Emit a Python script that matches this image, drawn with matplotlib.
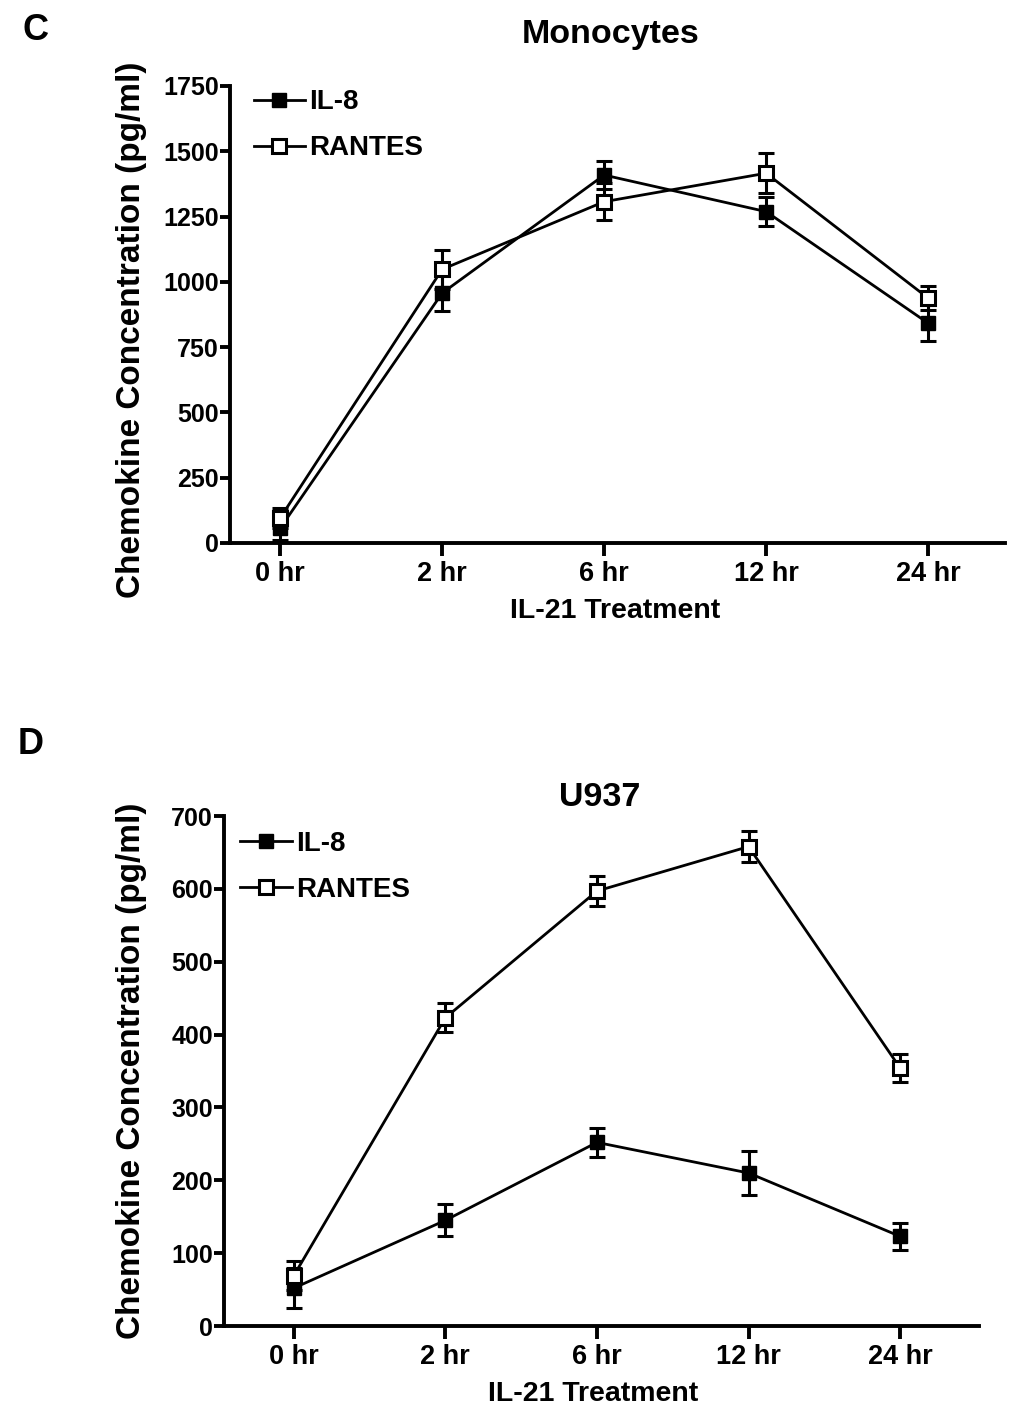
import numpy as np
import matplotlib.pyplot as plt

plt.rcParams['font.family'] = ['Liberation Sans', 'DejaVu Sans']
plt.rcParams['font.weight'] = 'bold'

# categories on the x axis
times = ['0 hr', '2 hr', '6 hr', '12 hr', '24 hr']

# panel C - Monocytes
mono_il8 = [57, 957, 1409, 1269, 842]
mono_il8_err = [45, 68, 55, 55, 68]
mono_rantes = [96, 1048, 1307, 1416, 938]
mono_rantes_err = [38, 74, 72, 76, 45]

# panel D - U937
u937_il8 = [52, 145, 252, 210, 123]
u937_il8_err = [27, 22, 20, 30, 18]
u937_rantes = [69, 423, 597, 658, 354]
u937_rantes_err = [20, 20, 21, 21, 19]

W, H = 1020, 1412
fig = plt.figure(figsize=(W / 100, H / 100), dpi=100)


def px_axes(left, top, right, bottom):
    # build axes from pixel box of the figure
    return fig.add_axes([left / W, 1 - bottom / H, (right - left) / W, (bottom - top) / H])


def draw_panel(ax, il8, il8_err, rantes, rantes_err, ymax, step, xlim, leg_anchor):
    x = np.arange(len(times))
    ax.errorbar(x, il8, yerr=il8_err, color='black', lw=2.0, marker='s', ms=9.5,
                mfc='black', mec='black', elinewidth=2.2, capsize=5.5, capthick=2.2,
                label='IL-8', zorder=3)
    ax.errorbar(x, rantes, yerr=rantes_err, color='black', lw=2.0, marker='s', ms=9.5,
                mfc='white', mec='black', mew=2.2, elinewidth=2.2, capsize=5.5, capthick=2.2,
                label='RANTES', zorder=3)
    ax.set_xlim(*xlim)
    ax.set_ylim(0, ymax)
    ax.set_yticks(np.arange(0, ymax + 1, step))
    ax.set_xticks(x)
    ax.set_xticklabels(times)
    for s in ['top', 'right']:
        ax.spines[s].set_visible(False)
    for s in ['left', 'bottom']:
        ax.spines[s].set_linewidth(2.8)
    ax.tick_params(axis='y', length=7, width=2.8, labelsize=18, pad=1)
    ax.tick_params(axis='x', length=9, width=2.8, labelsize=19.5, pad=4)
    for lab in ax.get_xticklabels() + ax.get_yticklabels():
        lab.set_fontweight('bold')
    # legend without error bars
    h, l = ax.get_legend_handles_labels()
    h = [hh[0] for hh in h]
    ax.legend(h, l, loc='upper left', bbox_to_anchor=leg_anchor, frameon=False,
              fontsize=20, handlelength=1.87, handletextpad=0.15, labelspacing=0.72,
              borderaxespad=0)


def ftext(x, y, s, **kw):
    # text placed at figure pixel coordinates
    fig.text(x / W, 1 - y / H, s, fontweight='bold', ha='center', va='center', **kw)


ax1 = px_axes(230, 86, 1005, 543)
draw_panel(ax1, mono_il8, mono_il8_err, mono_rantes, mono_rantes_err, 1750, 250,
           (-0.31, 4.475), (0.016, 1.017))

ax2 = px_axes(224, 816, 979, 1326)
draw_panel(ax2, u937_il8, u937_il8_err, u937_rantes, u937_rantes_err, 700, 100,
           (-0.46, 4.52), (0.006, 0.993))

ftext(132, 330, 'Chemokine Concentration (pg/ml)', fontsize=24, rotation=90)
ftext(132, 1071, 'Chemokine Concentration (pg/ml)', fontsize=24, rotation=90)
ftext(615, 611, 'IL-21 Treatment', fontsize=20.5)
ftext(593, 1394, 'IL-21 Treatment', fontsize=20.5)
ftext(611, 34, 'Monocytes', fontsize=24.5)
ftext(600, 797, 'U937', fontsize=24.5)
ftext(36, 30, 'C', fontsize=26)
ftext(31, 745, 'D', fontsize=26)

fig.savefig('out.png', dpi=100)
